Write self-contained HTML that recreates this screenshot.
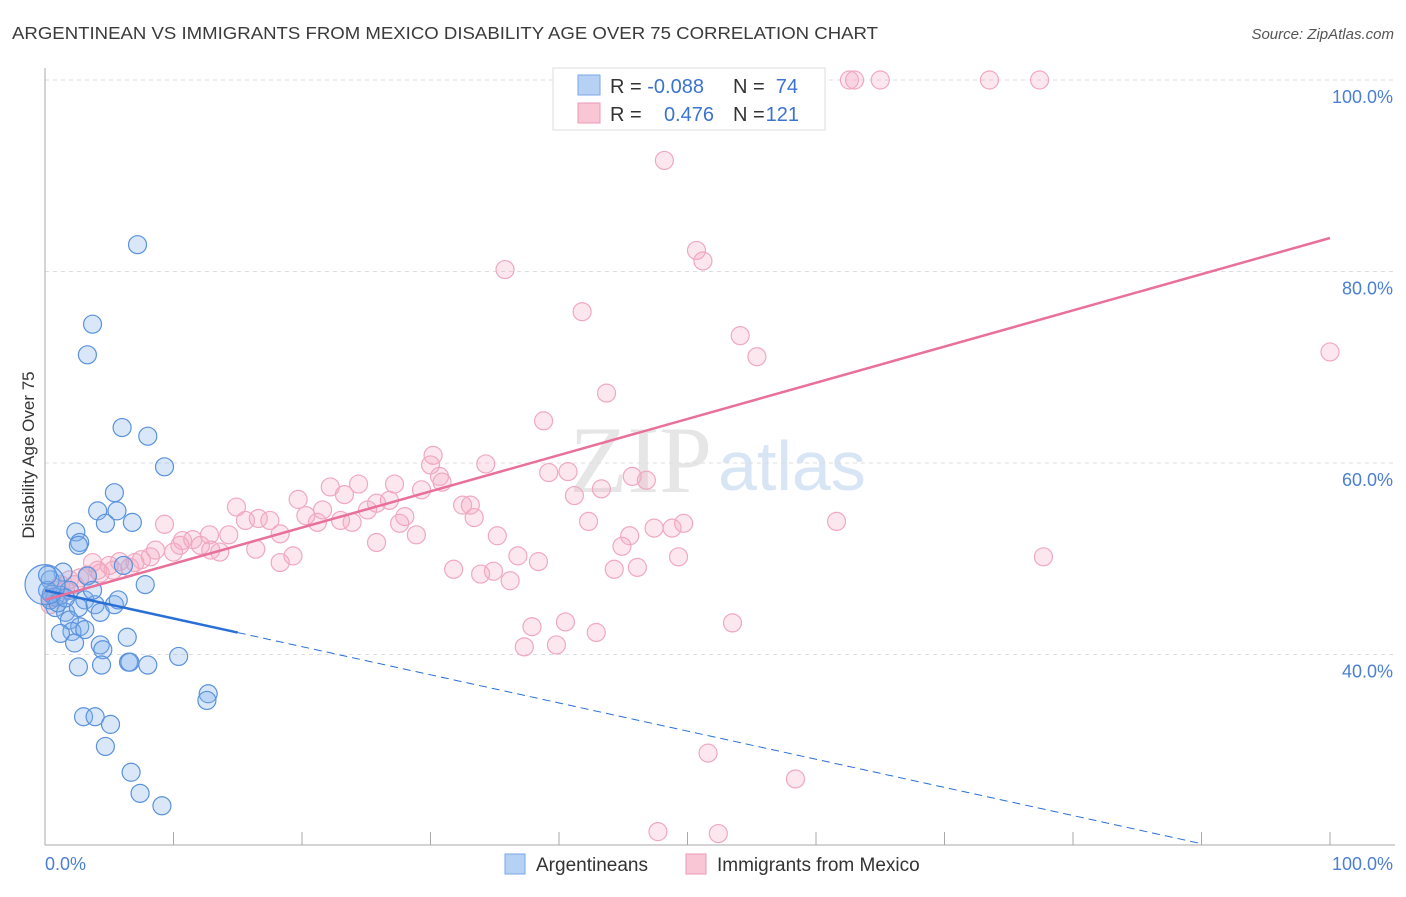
<!DOCTYPE html>
<html><head><meta charset="utf-8"><style>
body{margin:0;background:#fff;font-family:"Liberation Sans",sans-serif;}
</style></head><body>
<svg id="c" width="1406" height="892" xmlns="http://www.w3.org/2000/svg" style="font-family:'Liberation Sans',sans-serif">
<text x="12" y="39" font-size="17.5" fill="#3a3a3a" textLength="866" lengthAdjust="spacingAndGlyphs">ARGENTINEAN VS IMMIGRANTS FROM MEXICO DISABILITY AGE OVER 75 CORRELATION CHART</text>
<text x="1394" y="39" font-size="15" fill="#555" font-style="italic" text-anchor="end">Source: ZipAtlas.com</text>
<text x="712" y="492" font-size="95" fill="#e6e6e6" font-family="Liberation Serif" text-anchor="end">ZIP</text>
<text x="718" y="490" font-size="70" fill="#d8e5f4">atlas</text>
<g id="grid"></g><g id="pts"></g><g id="lines"></g>
<text transform="translate(34,455) rotate(-90)" font-size="17" fill="#333" text-anchor="middle">Disability Age Over 75</text>
<text x="45" y="870" font-size="18" fill="#4a7fd4">0.0%</text>
<text x="1393" y="870" font-size="18" fill="#4a7fd4" text-anchor="end">100.0%</text>
<g>
<rect x="553" y="68" width="272" height="62" fill="#fff" stroke="#ddd"/>
<rect x="578" y="75" width="22" height="20" fill="#b7d1f5" stroke="#7aa6e6"/>
<rect x="578" y="103" width="22" height="20" fill="#f8c6d5" stroke="#ee9ab5"/>
<text x="610" y="93" font-size="20" fill="#333">R = <tspan fill="#3a74d0">-0.088</tspan></text>
<text x="733" y="93" font-size="20" fill="#333">N = </text><text x="798" y="93" font-size="20" fill="#3a74d0" text-anchor="end">74</text>
<text x="610" y="121" font-size="20" fill="#333">R = </text><text x="714" y="121" font-size="20" fill="#3a74d0" text-anchor="end">0.476</text>
<text x="733" y="121" font-size="20" fill="#333">N = </text><text x="799" y="121" font-size="20" fill="#3a74d0" text-anchor="end">121</text>
</g>
<g>
<rect x="505" y="854" width="20" height="20" fill="#b7d1f5" stroke="#7aa6e6"/>
<text x="536" y="871" font-size="19" fill="#333">Argentineans</text>
<rect x="686" y="854" width="20" height="20" fill="#f8c6d5" stroke="#ee9ab5"/>
<text x="717" y="871" font-size="19" fill="#333">Immigrants from Mexico</text>
</g>
</svg>
<script>
const blueX=[7.2,3.7,3.3,6.0,8.0,9.3,5.4,4.1,5.6,4.7,6.8,2.4,2.7,2.6,6.1,3.3,1.4,0.4,0.2,0.8,1.2,1.9,3.1,0.8,1.6,2.6,3.9,4.3,5.4,5.7,3.7,7.8,1.9,2.7,2.1,1.2,3.1,6.4,2.3,4.3,4.5,6.5,6.6,8.0,10.4,2.6,4.4,12.7,12.6,3.0,3.9,5.1,4.7,6.7,7.4,9.1,0.4,0.5,1.0,1.6,0.0,0.2];
const blueY=[82.8,74.5,71.3,63.7,62.8,59.6,56.9,55.0,55.0,53.7,53.8,52.8,51.7,51.4,49.3,48.2,48.6,47.8,46.7,46.0,46.2,46.7,45.7,44.9,44.4,44.9,45.2,44.4,45.2,45.7,46.7,47.3,43.6,42.9,42.4,42.2,42.6,41.8,41.2,41.0,40.5,39.2,39.2,38.9,39.8,38.7,38.9,35.9,35.2,33.5,33.5,32.7,30.4,27.7,25.5,24.2,45.7,46.3,45.4,45.9,47.3,48.3];
const pinkX=[62.6,63.0,65.0,73.5,77.4,50.6,48.2,50.7,51.2,35.8,41.8,54.1,55.4,100,43.7,38.8,30.2,30.0,34.3,39.2,40.7,45.7,46.8,30.7,30.9,27.2,22.2,24.4,23.3,19.7,25.8,26.8,29.3,32.5,33.1,41.2,43.3,14.9,15.6,16.6,17.5,18.3,20.3,21.6,21.2,23.0,25.1,23.9,28.0,27.6,28.9,33.4,35.2,42.3,45.5,44.9,47.4,48.8,49.7,61.6,25.8,36.8,38.4,49.3,77.7,9.3,10.7,11.5,12.8,12.1,12.9,10.0,8.6,8.2,7.5,7.0,5.8,5.0,4.3,3.7,2.7,1.9,1.2,0.8,0.4,13.6,14.3,16.4,18.3,19.3,31.8,33.9,34.9,36.2,44.3,46.1,37.9,37.3,39.8,40.5,42.9,53.5,51.6,58.4,47.7,52.4,0.4,1.0,1.6,2.3,3.3,4.1,6.6,5.3,10.5];
const pinkY=[100,100,100,100,100,96.7,91.6,82.2,81.1,80.2,75.8,73.3,71.1,71.6,67.3,64.4,60.8,59.8,59.9,59.0,59.1,58.6,58.2,58.6,58.0,57.8,57.5,57.8,56.7,56.2,55.8,56.1,57.2,55.6,55.6,56.6,57.3,55.4,54.0,54.2,54.0,52.6,54.5,55.1,53.8,54.0,55.1,53.8,54.4,53.7,52.5,54.3,52.4,53.9,52.4,51.3,53.2,53.2,53.7,53.9,51.7,50.3,49.7,50.2,50.2,53.6,51.9,52.0,52.5,51.4,50.9,50.7,50.9,50.2,49.9,49.6,49.7,49.3,48.5,49.6,48.0,47.8,47.3,46.7,45.9,50.7,52.5,51.0,49.6,50.3,48.9,48.4,48.7,47.7,48.9,49.1,42.9,40.8,41.0,43.4,42.3,43.3,29.7,27.0,21.5,21.3,45.2,46.0,46.7,47.3,48.3,48.8,49.1,48.8,51.4];
const yTicks=[40,60,80,100];
const yTickLabels=["40.0%","60.0%","80.0%","100.0%"];
const xTicks=[0,10,20,30,40,50,60,70,80,90,100];
const blueTrend=[46.7,-0.294];
const pinkTrend=[45.7,0.378];
const NS="http://www.w3.org/2000/svg";
const X=v=>45+v*12.85, Y=v=>80+(100-v)*9.575;
function mk(t,a,p){const e=document.createElementNS(NS,t);for(const k in a)e.setAttribute(k,a[k]);p.appendChild(e);return e;}
const grid=document.getElementById('grid'),pts=document.getElementById('pts'),lines=document.getElementById('lines');
yTicks.forEach((v,i)=>{
 const l=mk('line',{x1:45,x2:1395,y1:Y(v),y2:Y(v),stroke:'#ddd','stroke-dasharray':'4,4'},grid);
 
 
 const t=mk('text',{x:1393,y:Y(v)+23,'font-size':18,fill:'#4a7fd4','text-anchor':'end'},grid);
 t.textContent=yTickLabels[i];
 
 
});
const ax=mk('line',{x1:45,x2:45,y1:68,y2:845,stroke:'#aaa'},grid);


const bx=mk('line',{x1:45,x2:1395,y1:845,y2:845,stroke:'#aaa'},grid);


xTicks.forEach(v=>{const t=mk('line',{x1:X(v),x2:X(v),y1:832,y2:845,stroke:'#aaa'},grid);
 
 });
pinkX.forEach((x,i)=>{const c=mk('circle',{cx:X(x),cy:Y(pinkY[i]),r:9,fill:'rgba(245,170,195,0.28)',stroke:'#f0a8c0','stroke-width':1.2},pts);
 
 });
blueX.forEach((x,i)=>{const c=mk('circle',{cx:X(x),cy:Y(blueY[i]),r:i==blueX.length-2?20:9,fill:'rgba(130,175,235,0.3)',stroke:'#5a92dc','stroke-width':1.2},pts);
 
 });
const bt=v=>blueTrend[0]+blueTrend[1]*v, pt=v=>pinkTrend[0]+pinkTrend[1]*v;
let l1=mk('line',{x1:X(0),y1:Y(bt(0)),x2:X(15),y2:Y(bt(15)),stroke:'#2a6fd6','stroke-width':2.5},lines);


let l2=mk('line',{x1:X(15),y1:Y(bt(15)),x2:X(90),y2:Y(bt(90)),stroke:'#2a6fd6','stroke-width':1,'stroke-dasharray':'8,5'},lines);


let l3=mk('line',{x1:X(0),y1:Y(pt(0)),x2:X(100),y2:Y(pt(100)),stroke:'#e8709a','stroke-width':2.5},lines);


</script>
</body></html>
